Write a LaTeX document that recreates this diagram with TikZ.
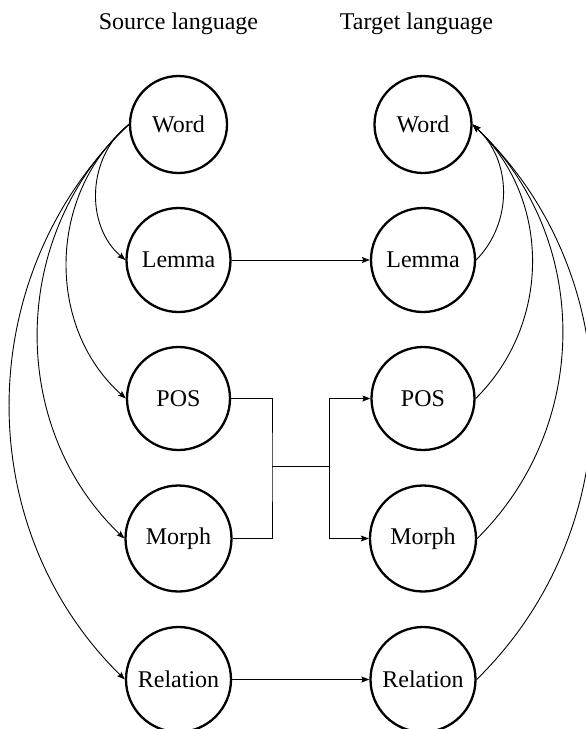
\documentclass[tikz,border=0pt]{standalone}
\usepackage{fontspec}
\setmainfont{Liberation Serif}
\usetikzlibrary{arrows.meta}
\begin{document}
\begin{tikzpicture}[x=1pt,y=-1pt,
  lnode/.style={circle,draw,line width=2.3pt,inner sep=0pt,font=\fontsize{24}{28}\selectfont},
  conn/.style={line width=0.9pt},
  arr/.style={conn,-{Stealth[length=8pt,width=6pt,inset=1.5pt]}},
  title/.style={anchor=base,inner sep=0pt,font=\fontsize{24}{28}\selectfont}]
\useasboundingbox (0,0) rectangle (586,729);
\node[title] (src) at (178.5,29) {Source language};
\node[title] (tgt) at (416.5,29) {Target language};
% source column
\node[lnode,minimum size=97pt]  (sw) at (178.5,124.5) {Word};
\node[lnode,minimum size=104pt] (sl) at (178.5,260) {Lemma};
\node[lnode,minimum size=103pt] (sp) at (178.5,398.5) {POS};
\node[lnode,minimum size=106pt] (sm) at (178.5,538.5) {Morph};
\node[lnode,minimum size=105pt] (sr) at (178.5,679.5) {Relation};
% target column
\node[lnode,minimum size=97pt]  (tw) at (423,124.5) {Word};
\node[lnode,minimum size=104pt] (tl) at (423,260) {Lemma};
\node[lnode,minimum size=103pt] (tp) at (423,398.5) {POS};
\node[lnode,minimum size=106pt] (tm) at (423,538.5) {Morph};
\node[lnode,minimum size=105pt] (tr) at (423,679.5) {Relation};
% source curves
\draw[arr] (sw.west) to[bend right=51] (sl.west);
\draw[arr] (sw.west) to[bend right=49] (sp.west);
\draw[arr] (sw.west) to[bend right=47] (sm.west);
\draw[arr] (sw.west) to[bend right=46] (sr.west);
% target curves
\draw[arr] (tl.east) to[bend right=46] (tw.east);
\draw[arr] (tp.east) to[bend right=46] (tw.east);
\draw[arr] (tm.east) to[bend right=46] (tw.east);
\draw[arr] (tr.east) to[bend right=46] (tw.east);
% straight links
\draw[arr] (sl.east) -- (tl.west);
\draw[arr] (sr.east) -- (tr.west);
% H connector
\coordinate (ja) at (272,466);
\coordinate (jb) at (329,466);
\draw[conn] (sp.east) -| (ja) |- (sm.east);
\draw[conn] (ja) -- (jb);
\draw[arr] (jb) |- (tp.west);
\draw[arr] (jb) |- (tm.west);
\end{tikzpicture}
\end{document}
